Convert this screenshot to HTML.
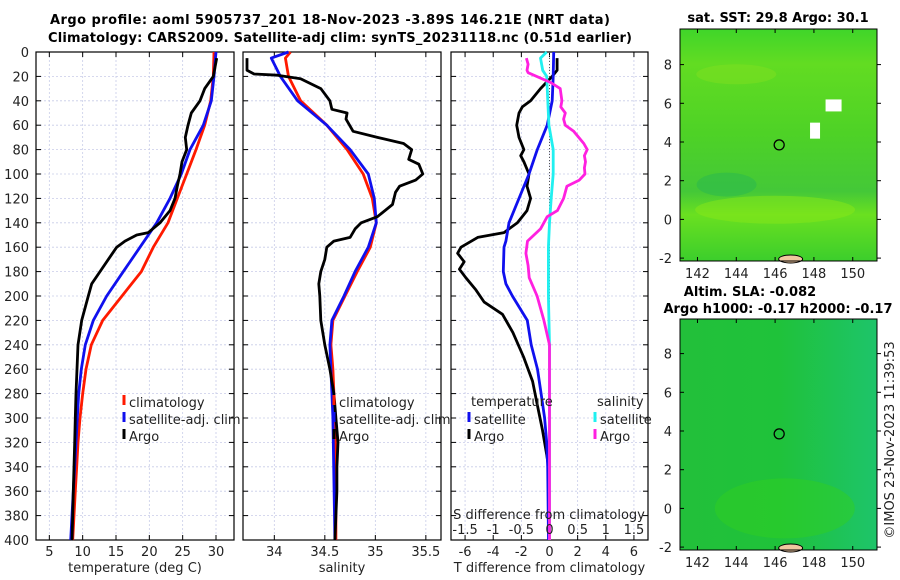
<!DOCTYPE html>
<html><head><meta charset="utf-8"><style>
html,body{margin:0;padding:0;background:#fff;}
svg{display:block;font-family:"DejaVu Sans","Liberation Sans",sans-serif;}
.tk{font-size:13px;fill:#222;}
.tt{font-size:13px;font-weight:bold;fill:#000;}
</style></head><body>
<svg id="fig" width="900" height="580" viewBox="0 0 900 580" xmlns="http://www.w3.org/2000/svg">
<defs>
<linearGradient id="g1" x1="0" y1="0" x2="0" y2="1">
<stop offset="0" stop-color="#3fd52a"/><stop offset="0.15" stop-color="#62dc22"/><stop offset="0.45" stop-color="#4ed226"/><stop offset="0.7" stop-color="#44c838"/><stop offset="0.8" stop-color="#6ae020"/><stop offset="1" stop-color="#3cce2c"/>
</linearGradient>
<linearGradient id="g2" x1="0" y1="0" x2="1" y2="0">
<stop offset="0" stop-color="#22c03a"/><stop offset="0.5" stop-color="#1fc23a"/><stop offset="1" stop-color="#1ec46a"/>
</linearGradient>
</defs>
<text class="tt" x="330" y="24" text-anchor="middle" textLength="560">Argo profile: aoml 5905737_201 18-Nov-2023 -3.89S 146.21E (NRT data)</text>
<text class="tt" x="340" y="42" text-anchor="middle" textLength="584">Climatology: CARS2009. Satellite-adj clim: synTS_20231118.nc (0.51d earlier)</text>
<g id="panels"></g>
<g id="maps"></g>
<text class="tk" transform="translate(894,440) rotate(-90)" text-anchor="middle">©IMOS 23-Nov-2023 11:39:53</text>
</svg>
<script>
// ---- data ----
const depthTicks=[0,20,40,60,80,100,120,140,160,180,200,220,240,260,280,300,320,340,360,380,400];
const tTicks=[5,10,15,20,25,30];
const sTicks=[34,34.5,35,35.5];
const sTickLabels=["34","34.5","35","35.5"];
const dTTicks=[-6,-4,-2,0,2,4,6];
const dSTicks=[-1.5,-1,-0.5,0,0.5,1,1.5];
const dSTickLabels=["-1.5","-1","-0.5","0","0.5","1","1.5"];

const tClimDepth=[0,20,40,60,80,100,120,140,160,180,200,220,240,260,280,300,320,340,360,380,400];
const tClim=[29.7,29.6,29.2,28.3,27.0,25.6,24.2,22.8,20.6,18.8,15.9,13.0,11.3,10.5,10.0,9.6,9.3,9.1,8.9,8.7,8.5];
const tSatDepth=[0,20,40,60,80,100,120,140,160,180,200,220,240,260,280,300,320,340,360,380,400];
const tSat=[30.0,29.7,29.3,28.1,26.1,24.8,23.1,21.1,18.6,16.1,13.6,11.6,10.4,9.8,9.4,9.2,9.0,8.8,8.6,8.4,8.2];
const tArgoDepth=[5,20,30,40,50,60,70,80,90,100,110,120,130,140,148,150,155,160,170,180,190,200,220,240,260,280,300,320,340,360,380,400];
const tArgo=[30.1,29.6,28.3,27.6,26.3,25.8,25.4,25.6,24.9,24.6,24.2,23.85,23.1,21.6,19.85,18.1,16.35,15.1,13.85,12.6,11.35,10.85,9.85,9.3,9.15,9.0,8.9,8.8,8.7,8.6,8.5,8.4];

const sClimDepth=[0,5,20,40,60,80,100,120,140,160,180,200,220,240,260,280,300,340,400];
const sClim=[34.16,34.11,34.14,34.26,34.52,34.72,34.88,34.97,35.01,34.95,34.82,34.70,34.58,34.56,34.58,34.59,34.60,34.61,34.61];
const sSatDepth=[0,5,20,40,60,80,100,120,140,160,180,200,220,240,280,300,400];
const sSat=[34.14,33.97,34.06,34.23,34.52,34.75,34.93,34.99,35.01,34.93,34.80,34.69,34.57,34.55,34.57,34.58,34.60];
const sArgoDepth=[5,15,18,19,22,30,40,47,50,55,65,70,75,80,88,92,100,105,110,115,125,135,140,145,152,155,160,170,180,190,200,220,240,260,280,300,320,340,360,380,400];
const sArgo=[33.73,33.73,33.8,34.03,34.26,34.46,34.55,34.57,34.72,34.71,34.78,35.02,35.28,35.36,35.33,35.43,35.47,35.4,35.24,35.2,35.17,35.02,34.86,34.8,34.75,34.59,34.52,34.5,34.46,34.44,34.45,34.46,34.5,34.55,34.59,34.61,34.63,34.62,34.62,34.61,34.6];

const dTSatDepth=[0,20,40,60,80,100,120,140,155,160,180,190,200,220,240,260,280,300,320,340,400];
const dTSat=[0.3,0.26,0.19,-0.16,-0.87,-1.46,-2.17,-2.88,-3.1,-3.23,-3.28,-3.1,-2.64,-1.58,-1.3,-0.85,-0.6,-0.35,-0.2,-0.13,-0.07];
const dTArgoDepth=[5,15,20,30,40,45,50,60,70,80,85,90,100,110,120,130,140,145,148,152,160,165,172,178,185,195,205,215,230,250,270,290,310,330,340,400];
const dTArgo=[0.54,0.54,0.19,-0.64,-1.34,-1.93,-2.17,-2.33,-2.17,-1.82,-2.05,-1.82,-1.46,-1.6,-1.34,-1.6,-2.28,-2.88,-3.23,-5.1,-6.29,-6.53,-6.06,-6.4,-5.95,-5.23,-4.64,-3.34,-2.6,-1.84,-1.2,-0.85,-0.5,-0.2,-0.07,-0.03];
const dSSatDepth=[0,5,15,20,40,60,80,100,120,140,160,200,240,400];
const dSSat=[-0.05,-0.16,-0.12,-0.05,-0.03,-0.01,0.065,0.065,0.03,0,-0.02,-0.02,0,0];
const dSArgoDepth=[5,10,15,17,25,30,40,45,50,55,60,65,75,80,85,90,95,100,105,110,120,130,135,145,155,165,175,185,200,220,240,400];
const dSArgo=[-0.41,-0.38,-0.4,-0.38,0.02,0.19,0.22,0.2,0.28,0.25,0.28,0.43,0.61,0.67,0.62,0.64,0.62,0.63,0.53,0.31,0.25,0.14,-0.04,-0.16,-0.39,-0.42,-0.38,-0.36,-0.22,-0.1,0,0];

const mapXTicks=[142,144,146,148,150];
const mapYTicks=[-2,0,2,4,6,8];
const floatLon=146.21, floatLat=3.85;

// ---- helpers ----
const NS="http://www.w3.org/2000/svg";
function mk(tag,attrs,parent){const e=document.createElementNS(NS,tag);for(const k in attrs)e.setAttribute(k,attrs[k]);parent.appendChild(e);return e;}
const Y0=52,Y1=540;
const yD=d=>Y0+(d/400)*(Y1-Y0);
const P=document.getElementById('panels');

function panel(name,x0,x1,xmin,xmax,ticks,labels,xlabel,showDepth){
  const g=mk('g',{},P);
  
  
  const sx=v=>x0+(v-xmin)/(xmax-xmin)*(x1-x0);
  const grid=mk('g',{},g);
  
  
  depthTicks.forEach(d=>{mk('line',{x1:x0,x2:x1,y1:yD(d),y2:yD(d),stroke:'#c8cce8','stroke-width':0.8,'stroke-dasharray':'2,2'},grid);});
  ticks.forEach(t=>{mk('line',{x1:sx(t),x2:sx(t),y1:Y0,y2:Y1,stroke:'#c8cce8','stroke-width':0.8,'stroke-dasharray':'2,2'},grid);});
  depthTicks.forEach(d=>{
    mk('line',{x1:x0,x2:x0+5,y1:yD(d),y2:yD(d),stroke:'#000'},g);
    mk('line',{x1:x1-5,x2:x1,y1:yD(d),y2:yD(d),stroke:'#000'},g);
    if(showDepth){const t=mk('text',{x:x0-7,y:yD(d)+5,'text-anchor':'end',class:'tk'},g);t.textContent=d;
      
      }
  });
  ticks.forEach((t,i)=>{
    mk('line',{x1:sx(t),x2:sx(t),y1:Y1,y2:Y1-5,stroke:'#000'},g);
    mk('line',{x1:sx(t),x2:sx(t),y1:Y0,y2:Y0+5,stroke:'#000'},g);
    const tx=mk('text',{x:sx(t),y:556,'text-anchor':'middle',class:'tk'},g);tx.textContent=labels[i];
    
    
  });
  const xl=mk('text',{x:(x0+x1)/2,y:572,'text-anchor':'middle',class:'tk'},g);xl.textContent=xlabel;
  
  
  mk('rect',{x:x0,y:Y0,width:x1-x0,height:Y1-Y0,fill:'none',stroke:'#000','stroke-width':1.2},g);
  return {g,sx};
}
function line(pn,name,depths,vals,color,sx){
  const pts=depths.map((d,i)=>(sx(vals[i])).toFixed(1)+','+yD(d).toFixed(1)).join(' ');
  const e=mk('polyline',{points:pts,fill:'none',stroke:color,'stroke-width':2.8,'stroke-linejoin':'round'},pn.g);
  
  
}
function legend(pn,x,y,color,label,name){
  mk('line',{x1:x,x2:x,y1:y-12,y2:y-2,stroke:color,'stroke-width':3},pn.g);
  const t=mk('text',{x:x+5,y:y,class:'tk'},pn.g);t.textContent=label;
  
  
}

// panel 1
const p1=panel('temperature-panel',36,234,3,32.7,tTicks,tTicks.map(String),'temperature (deg C)',true);
line(p1,'temp-climatology-line',tClimDepth,tClim,'#ff1a00',p1.sx);
line(p1,'temp-satellite-line',tSatDepth,tSat,'#1010ee',p1.sx);
line(p1,'temp-argo-line',tArgoDepth,tArgo,'#000',p1.sx);
legend(p1,124,407,'#ff1a00','climatology','legend-climatology');
legend(p1,124,424,'#1010ee','satellite-adj. clim','legend-satellite');
legend(p1,124,441,'#000','Argo','legend-argo');

// panel 2
const p2=panel('salinity-panel',243,441,33.69,35.65,sTicks,sTickLabels,'salinity',false);
line(p2,'sal-climatology-line',sClimDepth,sClim,'#ff1a00',p2.sx);
line(p2,'sal-satellite-line',sSatDepth,sSat,'#1010ee',p2.sx);
line(p2,'sal-argo-line',sArgoDepth,sArgo,'#000',p2.sx);
legend(p2,334,407,'#ff1a00','climatology','legend-climatology');
legend(p2,334,424,'#1010ee','satellite-adj. clim','legend-satellite');
legend(p2,334,441,'#000','Argo','legend-argo');

// panel 3
const p3=panel('difference-panel',451,648,-7,7,dTTicks,dTTicks.map(String),'T difference from climatology',false);
const sxS=v=>p3.sx(v*4);
mk('line',{x1:p3.sx(0),x2:p3.sx(0),y1:Y0,y2:Y1,stroke:'#555','stroke-width':1,'stroke-dasharray':'1,2'},p3.g);
line(p3,'dT-argo-line',dTArgoDepth,dTArgo,'#000',p3.sx);
line(p3,'dT-satellite-line',dTSatDepth,dTSat,'#1010ee',p3.sx);
line(p3,'dS-satellite-line',dSSatDepth,dSSat,'#20f0f0',sxS);
line(p3,'dS-argo-line',dSArgoDepth,dSArgo,'#ff20e0',sxS);
{const t=mk('text',{x:471,y:406,class:'tk'},p3.g);t.textContent='temperature';
 const t2=mk('text',{x:597,y:406,class:'tk'},p3.g);t2.textContent='salinity';}
legend(p3,469,424,'#1010ee','satellite','legend-t-satellite');
legend(p3,469,441,'#000','Argo','legend-t-argo');
legend(p3,595,424,'#20f0f0','satellite','legend-s-satellite');
legend(p3,595,441,'#ff20e0','Argo','legend-s-argo');
{const t=mk('text',{x:549,y:519,'text-anchor':'middle',class:'tk'},p3.g);t.textContent='S difference from climatology';}
dSTicks.forEach((v,i)=>{const t=mk('text',{x:sxS(v),y:534,'text-anchor':'middle',class:'tk'},p3.g);t.textContent=dSTickLabels[i];
  
  });

// maps
const M=document.getElementById('maps');
function map(name,y0,y1,fill,t1,t2){
  const g=mk('g',{},M);
  
  
  const x0=680,x1=877,lonMin=141.1,lonMax=151.25,latMin=-2.15,latMax=(y1-y0)/19.35-2.15;
  const sx=v=>x0+(v-lonMin)/(lonMax-lonMin)*(x1-x0);
  const sy=v=>y1-(v-latMin)/(latMax-latMin)*(y1-y0);
  mk('rect',{x:x0,y:y0,width:x1-x0,height:y1-y0,fill:fill},g);
  if(name==='sst-map'){
    mk('ellipse',{cx:sx(146),cy:sy(0.5),rx:80,ry:14,fill:'#88e818',opacity:0.5},g);
    mk('ellipse',{cx:sx(143.5),cy:sy(1.8),rx:30,ry:12,fill:'#28b850',opacity:0.5},g);
    mk('ellipse',{cx:sx(144),cy:sy(7.5),rx:40,ry:10,fill:'#80e020',opacity:0.5},g);
    mk('rect',{x:sx(148.6),y:sy(6.2),width:16,height:12,fill:'#fff'},g);
    mk('rect',{x:sx(147.8),y:sy(5),width:10,height:16,fill:'#fff'},g);
  } else {
    mk('ellipse',{cx:sx(146.5),cy:sy(0),rx:70,ry:30,fill:'#30d020',opacity:0.5},g);
  }
  mk('ellipse',{cx:sx(146.8),cy:y1-2,rx:12,ry:4,fill:'#f0c8a0',stroke:'#000','stroke-width':1},g);
  const c=mk('circle',{cx:sx(floatLon),cy:sy(floatLat),r:5,fill:'none',stroke:'#000','stroke-width':1.3},g);
  
  
  mk('rect',{x:x0,y:y0,width:x1-x0,height:y1-y0,fill:'none',stroke:'#000','stroke-width':1},g);
  mapXTicks.forEach(v=>{mk('line',{x1:sx(v),x2:sx(v),y1:y1,y2:y1-4,stroke:'#000'},g);mk('line',{x1:sx(v),x2:sx(v),y1:y0,y2:y0+4,stroke:'#000'},g);
    const t=mk('text',{x:sx(v),y:y1+17,'text-anchor':'middle',class:'tk'},g);t.textContent=v;
    
    });
  mapYTicks.forEach(v=>{mk('line',{x1:x1,x2:x1+4,y1:sy(v),y2:sy(v),stroke:'#000'},g);mk('line',{x1:x0,x2:x0+4,y1:sy(v),y2:sy(v),stroke:'#000'},g);
    const t=mk('text',{x:x0-8,y:sy(v)+5,'text-anchor':'end',class:'tk'},g);t.textContent=v;
    
    });
  t1.forEach((s,i)=>{const t=mk('text',{x:s[1],y:s[2],'text-anchor':'middle',class:'tt'},g);t.textContent=s[0];
    
    });
}
map('sst-map',29,261,'url(#g1)',[['sat. SST: 29.8 Argo: 30.1',778,22]]);
map('sla-map',319,550,'url(#g2)',[['Altim. SLA: -0.082',750,296],['Argo h1000: -0.17 h2000: -0.17',778,313]]);
</script>
</body></html>
